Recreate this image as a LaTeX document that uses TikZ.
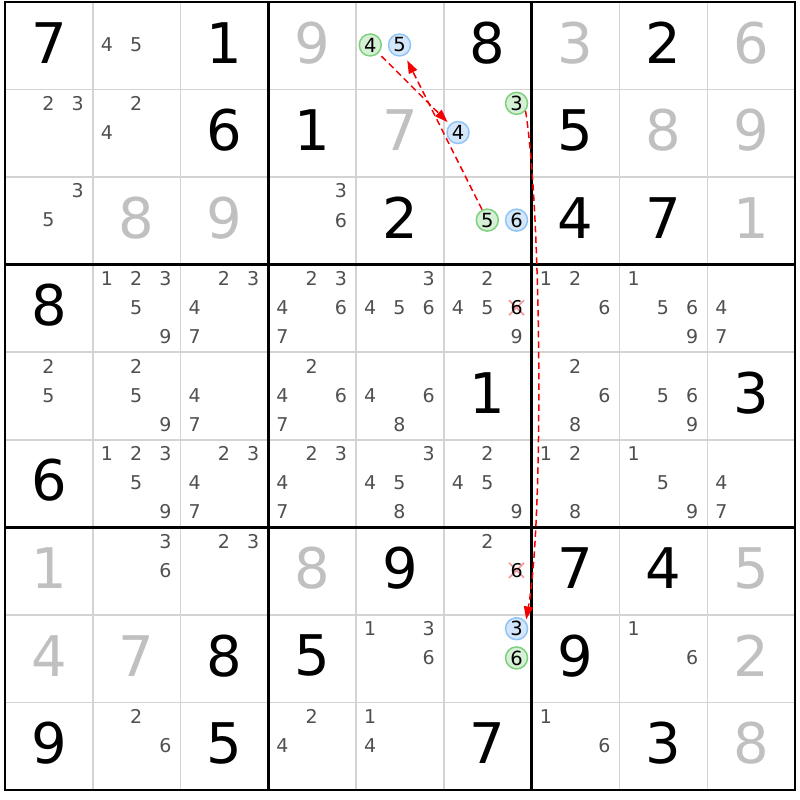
\documentclass[tikz,border=0pt]{standalone}
\usepackage{fontspec}
\setmainfont{DejaVu Sans}
\usetikzlibrary{arrows.meta}
\definecolor{solvedgray}{RGB}{192,192,192}
\definecolor{candgray}{RGB}{80,80,80}
\definecolor{thingray}{RGB}{211,211,211}
\definecolor{grnfill}{RGB}{214,240,214}
\definecolor{grnline}{RGB}{125,208,125}
\definecolor{blufill}{RGB}{212,230,250}
\definecolor{bluline}{RGB}{145,196,245}
\definecolor{xpink}{RGB}{245,155,155}
\definecolor{linkred}{RGB}{245,0,0}
\begin{document}
\begin{tikzpicture}[x=1pt,y=-1pt,
  given/.style={inner sep=0pt, text=black, font=\fontsize{56}{56}\selectfont},
  solved/.style={given, text=solvedgray},
  cand/.style={inner sep=0pt, text=candgray, font=\fontsize{19}{19}\selectfont},
  hlgreen/.style={circle, inner sep=0pt, minimum size=22pt, line width=1.5pt, draw=grnline, fill=grnfill, text=black, font=\fontsize{19.5}{19.5}\selectfont},
  hlblue/.style={hlgreen, draw=bluline, fill=blufill},
  gridthin/.style={draw=thingray, line width=1.5pt},
  gridthick/.style={draw=black, line width=2.8pt},
  strike/.style={draw=xpink, line width=1.7pt},
  link/.style={draw=linkred, line width=1.5pt, dash pattern=on 6.5pt off 4pt, -{Triangle[length=13pt,width=9pt]}}
]
\def\cellw{87.78}
\def\cellh{87.56}
\useasboundingbox (0,0) rectangle (800,800);
\fill[white] (0,0) rectangle (800,800);
% grid
\foreach \i in {1,2,4,5,7,8}{
  \draw[gridthin] ({5+\i*\cellw},2) -- ({5+\i*\cellw},790);
  \draw[gridthin] (5,{2+\i*\cellh}) -- (795,{2+\i*\cellh});
}
\foreach \i in {3,6}{
  \draw[gridthick] ({5+\i*\cellw},2) -- ({5+\i*\cellw},790);
  \draw[gridthick] (5,{2+\i*\cellh}) -- (795,{2+\i*\cellh});
}
\draw[gridthick] (5,2) rectangle (795,790);
% givens
\foreach \r/\c/\d in {1/1/7,1/3/1,1/6/8,1/8/2,2/3/6,2/4/1,2/7/5,3/5/2,3/7/4,3/8/7,4/1/8,5/6/1,5/9/3,6/1/6,7/5/9,7/7/7,7/8/4,8/3/8,8/4/5,8/7/9,9/1/9,9/3/5,9/6/7,9/8/3}{
  \node[given] (g\r\c) at ({5+(\c-0.5)*\cellw},{2+(\r-0.5)*\cellh-3}) {\d};
}
% solved
\foreach \r/\c/\d in {1/4/9,1/7/3,1/9/6,2/5/7,2/8/8,2/9/9,3/2/8,3/3/9,3/9/1,7/1/1,7/4/8,7/9/5,8/1/4,8/2/7,8/9/2,9/9/8}{
  \node[solved] (s\r\c) at ({5+(\c-0.5)*\cellw},{2+(\r-0.5)*\cellh-3}) {\d};
}
% candidates
\foreach \r/\c/\d in {1/2/4,1/2/5,
  2/1/2,2/1/3,2/2/2,2/2/4,
  3/1/3,3/1/5,3/4/3,3/4/6,
  4/2/1,4/2/2,4/2/3,4/2/5,4/2/9,4/3/2,4/3/3,4/3/4,4/3/7,4/4/2,4/4/3,4/4/4,4/4/6,4/4/7,4/5/3,4/5/4,4/5/5,4/5/6,4/6/2,4/6/4,4/6/5,4/6/9,4/7/1,4/7/2,4/7/6,4/8/1,4/8/5,4/8/6,4/8/9,4/9/4,4/9/7,
  5/1/2,5/1/5,5/2/2,5/2/5,5/2/9,5/3/4,5/3/7,5/4/2,5/4/4,5/4/6,5/4/7,5/5/4,5/5/6,5/5/8,5/7/2,5/7/6,5/7/8,5/8/5,5/8/6,5/8/9,
  6/2/1,6/2/2,6/2/3,6/2/5,6/2/9,6/3/2,6/3/3,6/3/4,6/3/7,6/4/2,6/4/3,6/4/4,6/4/7,6/5/3,6/5/4,6/5/5,6/5/8,6/6/2,6/6/4,6/6/5,6/6/9,6/7/1,6/7/2,6/7/8,6/8/1,6/8/5,6/8/9,6/9/4,6/9/7,
  7/2/3,7/2/6,7/3/2,7/3/3,7/6/2,
  8/5/1,8/5/3,8/5/6,8/8/1,8/8/6,
  9/2/2,9/2/6,9/4/2,9/4/4,9/5/1,9/5/4,9/7/1,9/7/6}{
  \pgfmathtruncatemacro\kx{mod(\d-1,3)}
  \pgfmathtruncatemacro\ky{floor((\d-1)/3)}
  \node[cand] (k\r\c\d) at ({5+(\c-1)*\cellw+(2*\kx+1)*\cellw/6-0.5},{2+(\r-1)*\cellh+(2*\ky+1)*\cellh/6-0.8}) {\d};
}
% eliminated candidates
\foreach \r/\c in {4/6,7/6}{
  \coordinate (xc\r\c) at ({5+(\c-1)*\cellw+5*\cellw/6-0.5},{2+(\r-1)*\cellh+3*\cellh/6-0.8});
  \draw[strike] ([shift={(-7.5,-7.5)}]xc\r\c) -- ([shift={(7.5,7.5)}]xc\r\c);
  \draw[strike] ([shift={(-7.5,7.5)}]xc\r\c) -- ([shift={(7.5,-7.5)}]xc\r\c);
  \node[cand, text=black] (x\r\c) at (xc\r\c) {6};
}
% highlighted candidates
\foreach \r/\c/\d in {1/5/4,2/6/3,3/6/5,8/6/6}{
  \pgfmathtruncatemacro\kx{mod(\d-1,3)}
  \pgfmathtruncatemacro\ky{floor((\d-1)/3)}
  \node[hlgreen] (gc\r\c\d) at ({5+(\c-1)*\cellw+(2*\kx+1)*\cellw/6-0.5},{2+(\r-1)*\cellh+(2*\ky+1)*\cellh/6-0.8}) {\d};
}
\foreach \r/\c/\d in {1/5/5,2/6/4,3/6/6,8/6/3}{
  \pgfmathtruncatemacro\kx{mod(\d-1,3)}
  \pgfmathtruncatemacro\ky{floor((\d-1)/3)}
  \node[hlblue] (bc\r\c\d) at ({5+(\c-1)*\cellw+(2*\kx+1)*\cellw/6-0.5},{2+(\r-1)*\cellh+(2*\ky+1)*\cellh/6-0.8}) {\d};
}
% links
\draw[link, shorten <=4pt, shorten >=3pt] (gc154) -- (bc264);
\draw[link, shorten >=5.5pt] (gc365) -- (bc155);
\draw[link, shorten >=2pt] (gc263.-40) .. controls +(16,100) and +(18,-100) .. (bc863.38);
\end{tikzpicture}
\end{document}
